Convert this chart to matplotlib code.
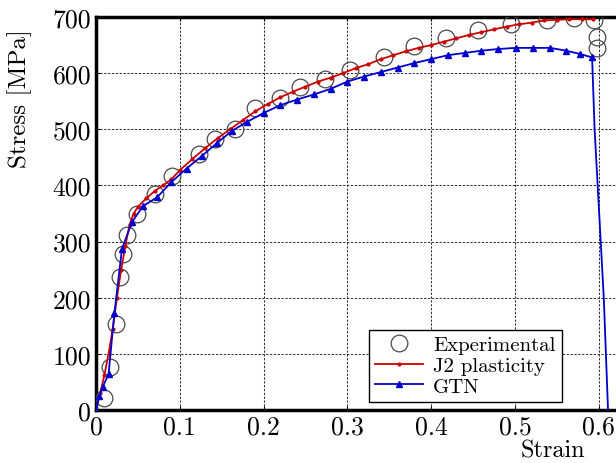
import matplotlib
matplotlib.use("Agg")
import matplotlib.pyplot as plt

plt.rcParams['font.family'] = 'serif'
plt.rcParams['font.serif'] = ['cmr10']
plt.rcParams['mathtext.fontset'] = 'cm'
plt.rcParams['axes.unicode_minus'] = False

# Experimental points
exp_strain = [0.010, 0.017, 0.024, 0.029, 0.032, 0.037, 0.049, 0.070, 0.091, 0.123,
              0.142, 0.166, 0.190, 0.220, 0.243, 0.273, 0.303, 0.344, 0.380, 0.418,
              0.456, 0.495, 0.538, 0.570, 0.594, 0.598, 0.598]
exp_stress = [21, 77, 153, 237, 278, 312, 349, 385, 417, 456,
              483, 500, 538, 556, 575, 590, 606, 629, 648, 663,
              677, 688, 695, 698, 694, 664, 644]

# J2 plasticity
j2_strain = [0, 0.005, 0.010, 0.015, 0.020, 0.025, 0.030, 0.035, 0.040, 0.045,
             0.050, 0.060, 0.070, 0.080, 0.090, 0.100, 0.115, 0.130, 0.145, 0.160,
             0.175, 0.190, 0.205, 0.220, 0.235, 0.250, 0.265, 0.280, 0.295, 0.310,
             0.325, 0.340, 0.355, 0.370, 0.385, 0.400, 0.415, 0.430, 0.445, 0.460,
             0.475, 0.490, 0.505, 0.520, 0.535, 0.550, 0.565, 0.580, 0.593]
j2_stress = [0, 30, 62, 100, 145, 200, 250, 292, 330, 350,
             362, 377, 390, 400, 411, 427, 447, 466, 484, 500,
             516, 532, 545, 557, 567, 576, 585, 592, 600, 609,
             616, 625, 632, 639, 645, 650, 656, 662, 668, 673,
             678, 683, 687, 690, 694, 695, 696, 696, 696]

# GTN
gtn_strain = [0, 0.004, 0.008, 0.015, 0.022, 0.031, 0.043, 0.056, 0.073, 0.090,
              0.108, 0.126, 0.144, 0.162, 0.180, 0.200, 0.220, 0.240, 0.260, 0.280,
              0.300, 0.320, 0.340, 0.360, 0.380, 0.400, 0.420, 0.440, 0.460, 0.480,
              0.501, 0.521, 0.542, 0.561, 0.578, 0.592, 0.595, 0.606, 0.611]
gtn_stress = [0, 25, 41, 64, 173, 287, 335, 363, 379, 406,
              430, 452, 475, 497, 513, 529, 543, 553, 562, 572,
              585, 594, 602, 610, 618, 625, 632, 636, 640, 643,
              645, 645, 645, 640, 634, 628, 500, 198, 0]

x_ticks = [0, 0.1, 0.2, 0.3, 0.4, 0.5, 0.6]
x_tick_labels = ['0', '0.1', '0.2', '0.3', '0.4', '0.5', '0.6']
y_ticks = [0, 100, 200, 300, 400, 500, 600, 700]

fig = plt.figure(figsize=(6.16, 4.64), dpi=100)
ax = fig.add_axes([96 / 616, 53 / 464, 544.7 / 616, 393 / 464])

ax.plot(exp_strain, exp_stress, 'o', mfc='none', mec='#4a4a4a', ms=12, mew=0.9,
        label='Experimental', zorder=3)
ax.plot(j2_strain, j2_stress, '-', color='#cc0000', lw=1.3, marker='.', ms=4,
        label='J2 plasticity', zorder=4)
ax.plot(gtn_strain, gtn_stress, '-', color='#0000cc', lw=1.3, marker='^', ms=5,
        markevery=list(range(len(gtn_strain) - 3)), label='GTN', zorder=5)

ax.set_xlim(0, 0.65)
ax.set_ylim(0, 700)
ax.set_xticks(x_ticks)
ax.set_xticklabels(x_tick_labels)
ax.set_yticks(y_ticks)
ax.tick_params(direction='in', labelsize=18.5, top=True, right=True, length=3, width=0.8)

ax.grid(True, color='#333333', linestyle=(0, (2.2, 1.5)), lw=0.75)
ax.set_axisbelow(True)
for s in ['left', 'bottom', 'top', 'right']:
    ax.spines[s].set_linewidth(2.5)

ax.set_xlabel('Strain', fontsize=17.5)
ax.xaxis.set_label_coords((553 - 96) / 544.7, -0.076)
ax.set_ylabel('Stress [MPa]', fontsize=18)
ax.yaxis.set_label_coords(-0.118, 0.794)

leg = ax.legend(loc='lower right', bbox_to_anchor=(562 / 616, 61 / 464),
                bbox_transform=fig.transFigure, borderaxespad=0, fancybox=False,
                edgecolor='black', framealpha=1, fontsize=15, handlelength=2.3,
                handletextpad=0.5, borderpad=0.3, labelspacing=0.1)
leg.get_frame().set_linewidth(1.0)

fig.savefig('out.png', dpi=100)
